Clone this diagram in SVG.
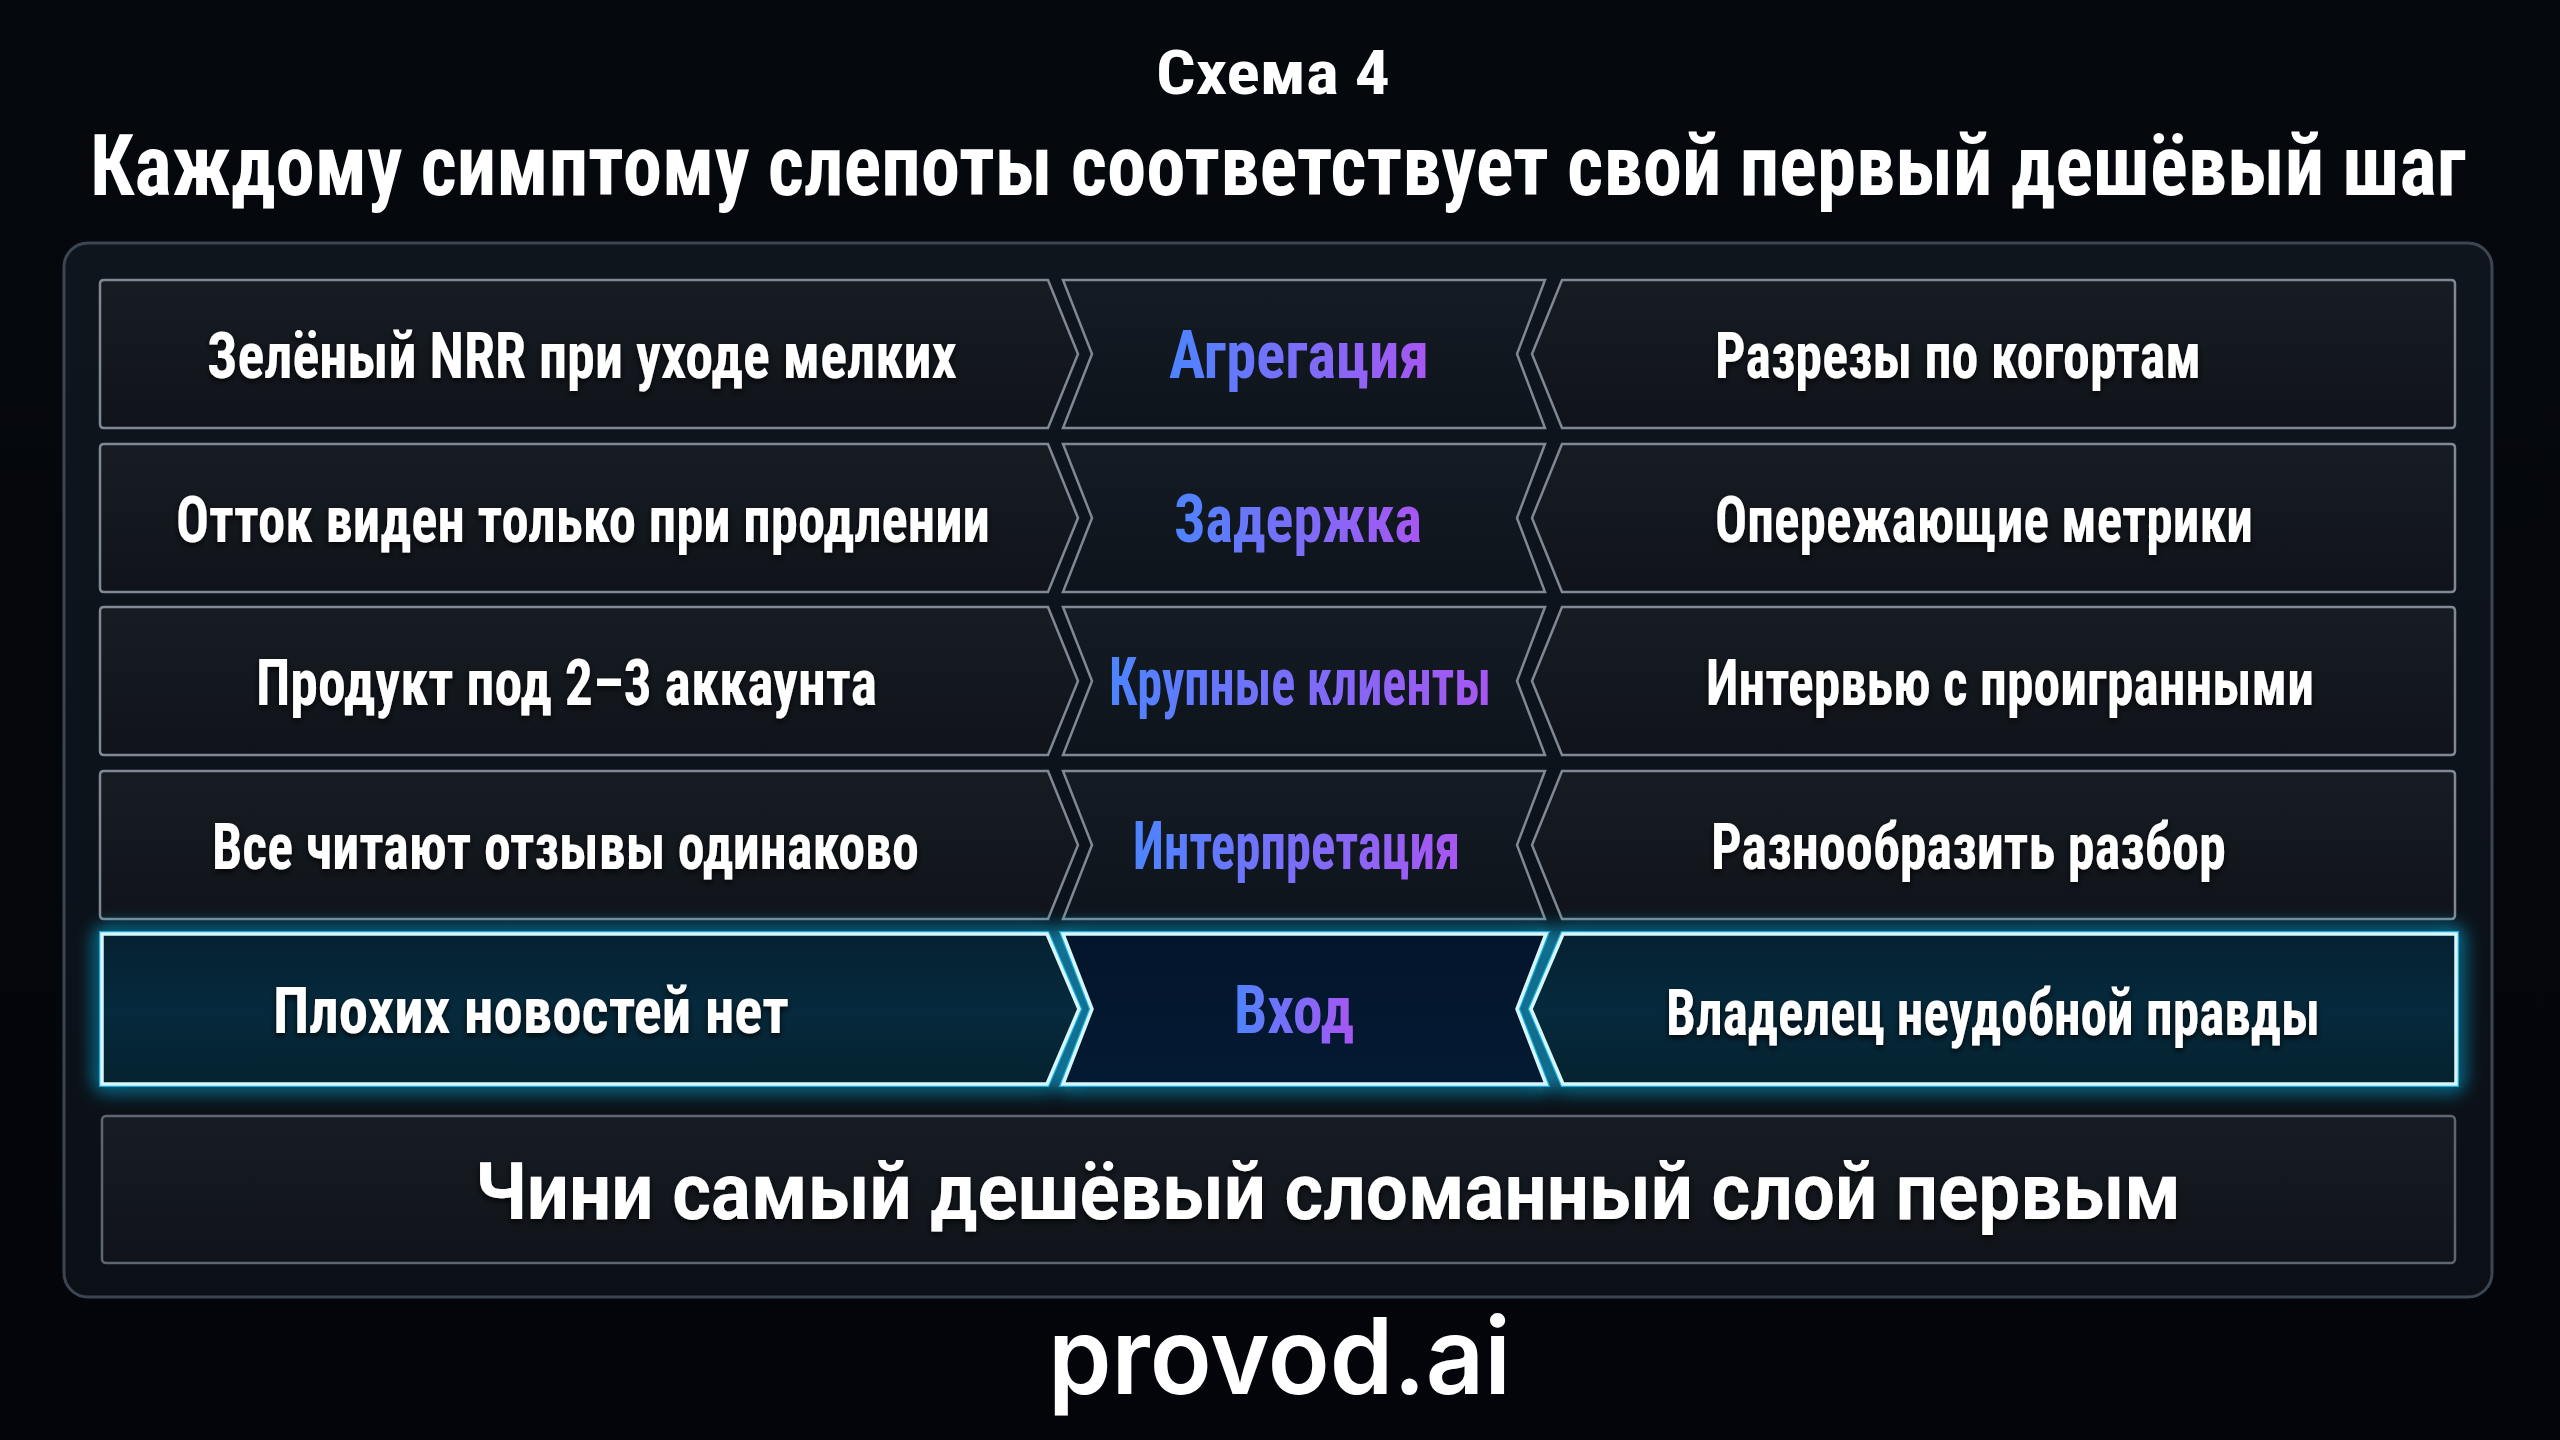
<svg xmlns="http://www.w3.org/2000/svg" width="2560" height="1440" viewBox="0 0 2560 1440">
<defs>
  <linearGradient id="bg" x1="0" y1="0" x2="0" y2="1">
    <stop offset="0" stop-color="#05080d"/>
    <stop offset="1" stop-color="#03050a"/>
  </linearGradient>
  <linearGradient id="panelFill" x1="0" y1="0" x2="0" y2="1">
    <stop offset="0" stop-color="#0e151d"/>
    <stop offset="1" stop-color="#0a1016"/>
  </linearGradient>
  <linearGradient id="boxFill" x1="0" y1="0" x2="0" y2="1">
    <stop offset="0" stop-color="#171c23"/>
    <stop offset="1" stop-color="#10141a"/>
  </linearGradient>
  <linearGradient id="midFill" x1="0" y1="0" x2="0" y2="1">
    <stop offset="0" stop-color="#141b24"/>
    <stop offset="1" stop-color="#0e141b"/>
  </linearGradient>
  <linearGradient id="hiFill" x1="0" y1="0" x2="0" y2="1">
    <stop offset="0" stop-color="#052131"/>
    <stop offset="0.5" stop-color="#062a3d"/>
    <stop offset="1" stop-color="#05222f"/>
  </linearGradient>
  <linearGradient id="hiMidFill" x1="0" y1="0" x2="0" y2="1">
    <stop offset="0" stop-color="#03152b"/>
    <stop offset="1" stop-color="#041a33"/>
  </linearGradient>
  <linearGradient id="txtGrad" x1="0" y1="0" x2="1" y2="0">
    <stop offset="0" stop-color="#4d84ff"/>
    <stop offset="1" stop-color="#a856f2"/>
  </linearGradient>
  <filter id="glow" filterUnits="userSpaceOnUse" x="60" y="890" width="2440" height="240">
    <feGaussianBlur in="SourceGraphic" stdDeviation="10" result="b"/>
    <feMerge><feMergeNode in="b"/><feMergeNode in="b"/><feMergeNode in="SourceGraphic"/></feMerge>
  </filter>
  <filter id="tshadow" filterUnits="userSpaceOnUse" x="0" y="0" width="2560" height="1440">
    <feDropShadow dx="0" dy="3" stdDeviation="3" flood-color="#000000" flood-opacity="0.8"/>
  </filter>
  <style>
    .box { fill: url(#boxFill); stroke: #7f8893; stroke-width: 2.5; stroke-linejoin: miter; }
    .mid { fill: url(#midFill); stroke: #7f8893; stroke-width: 2.5; }
    .hiBox { fill: url(#hiFill); stroke: #d6f7ff; stroke-width: 3.5; }
    .hiMid { fill: url(#hiMidFill); stroke: #d6f7ff; stroke-width: 3.5; }
    .glowLine { fill: none; stroke: #19b6ea; stroke-width: 6; opacity: 0.9; }
    .t { font-family: "Liberation Sans Narrow", "Roboto Condensed", "DejaVu Sans Condensed", "Liberation Sans", sans-serif; font-stretch: condensed; font-weight: bold; fill: #ffffff; }
    .row { font-size: 64px; }
    .midt { font-size: 66px; fill: url(#txtGrad); }
    .bottom { font-family: "Roboto", "Inter", "Liberation Sans", sans-serif; font-weight: bold; font-size: 80px; fill: #ffffff; }
  </style>
</defs>

<rect x="0" y="0" width="2560" height="1440" fill="url(#bg)"/>

<g id="title">
  <text class="t" x="1156" y="94" font-size="62" font-weight="600" textLength="234" lengthAdjust="spacingAndGlyphs">Схема 4</text>
  <text class="t" x="90" y="195" font-size="86" textLength="2376" lengthAdjust="spacingAndGlyphs">Каждому симптому слепоты соответствует свой первый дешёвый шаг</text>
</g>

<g id="panel">
  <rect x="64" y="243" width="2428" height="1054" rx="24" fill="url(#panelFill)" stroke="#3c4652" stroke-width="3"/>
</g>

<g id="connectors"/>

<!-- Row 1 -->
<g id="row1-symptom">
  <path class="box" d="M104,280 H1048 L1078,354 L1048,428 H104 Q100,428 100,424 V284 Q100,280 104,280 Z"/>
  <text class="t row" x="207" y="378" textLength="750" lengthAdjust="spacingAndGlyphs" filter="url(#tshadow)">Зелёный NRR при уходе мелких</text>
</g>
<g id="row1-cause">
  <path class="mid" d="M1063,280 H1545 L1517,354 L1545,428 H1063 L1092,354 Z"/>
  <text class="t midt" x="1169" y="378" textLength="260" lengthAdjust="spacingAndGlyphs">Агрегация</text>
</g>
<g id="row1-step">
  <path class="box" d="M1562,280 H2451 Q2455,280 2455,284 V424 Q2455,428 2451,428 H1562 L1532,354 Z"/>
  <text class="t row" x="1715" y="378" textLength="486" lengthAdjust="spacingAndGlyphs" filter="url(#tshadow)">Разрезы по когортам</text>
</g>

<!-- Row 2 -->
<g id="row2-symptom">
  <path class="box" d="M104,444 H1048 L1078,518 L1048,592 H104 Q100,592 100,588 V448 Q100,444 104,444 Z"/>
  <text class="t row" x="176" y="542" textLength="814" lengthAdjust="spacingAndGlyphs" filter="url(#tshadow)">Отток виден только при продлении</text>
</g>
<g id="row2-cause">
  <path class="mid" d="M1063,444 H1545 L1517,518 L1545,592 H1063 L1092,518 Z"/>
  <text class="t midt" x="1174" y="542" textLength="248" lengthAdjust="spacingAndGlyphs">Задержка</text>
</g>
<g id="row2-step">
  <path class="box" d="M1562,444 H2451 Q2455,444 2455,448 V588 Q2455,592 2451,592 H1562 L1532,518 Z"/>
  <text class="t row" x="1715" y="542" textLength="538" lengthAdjust="spacingAndGlyphs" filter="url(#tshadow)">Опережающие метрики</text>
</g>

<!-- Row 3 -->
<g id="row3-symptom">
  <path class="box" d="M104,607 H1048 L1078,681 L1048,755 H104 Q100,755 100,751 V611 Q100,607 104,607 Z"/>
  <text class="t row" x="256" y="705" textLength="621" lengthAdjust="spacingAndGlyphs" filter="url(#tshadow)">Продукт под 2–3 аккаунта</text>
</g>
<g id="row3-cause">
  <path class="mid" d="M1063,607 H1545 L1517,681 L1545,755 H1063 L1092,681 Z"/>
  <text class="t midt" x="1109" y="705" textLength="382" lengthAdjust="spacingAndGlyphs">Крупные клиенты</text>
</g>
<g id="row3-step">
  <path class="box" d="M1562,607 H2451 Q2455,607 2455,611 V751 Q2455,755 2451,755 H1562 L1532,681 Z"/>
  <text class="t row" x="1706" y="705" textLength="608" lengthAdjust="spacingAndGlyphs" filter="url(#tshadow)">Интервью с проигранными</text>
</g>

<!-- Row 4 -->
<g id="row4-symptom">
  <path class="box" d="M104,771 H1048 L1078,845 L1048,919 H104 Q100,919 100,915 V775 Q100,771 104,771 Z"/>
  <text class="t row" x="212" y="869" textLength="707" lengthAdjust="spacingAndGlyphs" filter="url(#tshadow)">Все читают отзывы одинаково</text>
</g>
<g id="row4-cause">
  <path class="mid" d="M1063,771 H1545 L1517,845 L1545,919 H1063 L1092,845 Z"/>
  <text class="t midt" x="1133" y="869" textLength="327" lengthAdjust="spacingAndGlyphs">Интерпретация</text>
</g>
<g id="row4-step">
  <path class="box" d="M1562,771 H2451 Q2455,771 2455,775 V915 Q2455,919 2451,919 H1562 L1532,845 Z"/>
  <text class="t row" x="1711" y="869" textLength="515" lengthAdjust="spacingAndGlyphs" filter="url(#tshadow)">Разнообразить разбор</text>
</g>

<!-- Row 5 (highlighted) -->
<g id="row5-glow" filter="url(#glow)">
  <path class="glowLine" d="M102,934 H1047 L1079,1009 L1047,1084 H102 Z"/>
  <path class="glowLine" d="M1063,934 H1546 L1517,1009 L1546,1084 H1063 L1092,1009 Z"/>
  <path class="glowLine" d="M1563,934 H2456 V1084 H1563 L1531,1009 Z"/>
</g>
<g id="row5-symptom">
  <path class="hiBox" d="M102,934 H1047 L1079,1009 L1047,1084 H102 Z"/>
  <text class="t row" x="273" y="1033" textLength="516" lengthAdjust="spacingAndGlyphs" filter="url(#tshadow)">Плохих новостей нет</text>
</g>
<g id="row5-cause">
  <path class="hiMid" d="M1063,934 H1546 L1517,1009 L1546,1084 H1063 L1092,1009 Z"/>
  <text class="t midt" x="1234" y="1033" textLength="120" lengthAdjust="spacingAndGlyphs">Вход</text>
</g>
<g id="row5-step">
  <path class="hiBox" d="M1563,934 H2456 V1084 H1563 L1531,1009 Z"/>
  <text class="t row" x="1666" y="1035" textLength="654" lengthAdjust="spacingAndGlyphs" filter="url(#tshadow)">Владелец неудобной правды</text>
</g>

<!-- Bottom principle -->
<g id="principle">
  <rect x="102" y="1116" width="2353" height="147" rx="4" fill="url(#boxFill)" stroke="#5d6671" stroke-width="2.5"/>
  <text class="bottom" x="475" y="1219" textLength="1706" lengthAdjust="spacingAndGlyphs" filter="url(#tshadow)">Чини самый дешёвый сломанный слой первым</text>
</g>

<g id="brand">
  <text x="1048" y="1394" font-family="Inter, Roboto, 'Liberation Sans', sans-serif" font-weight="600" font-size="106" fill="#ffffff" textLength="463" lengthAdjust="spacingAndGlyphs">provod.ai</text>
</g>
</svg>
